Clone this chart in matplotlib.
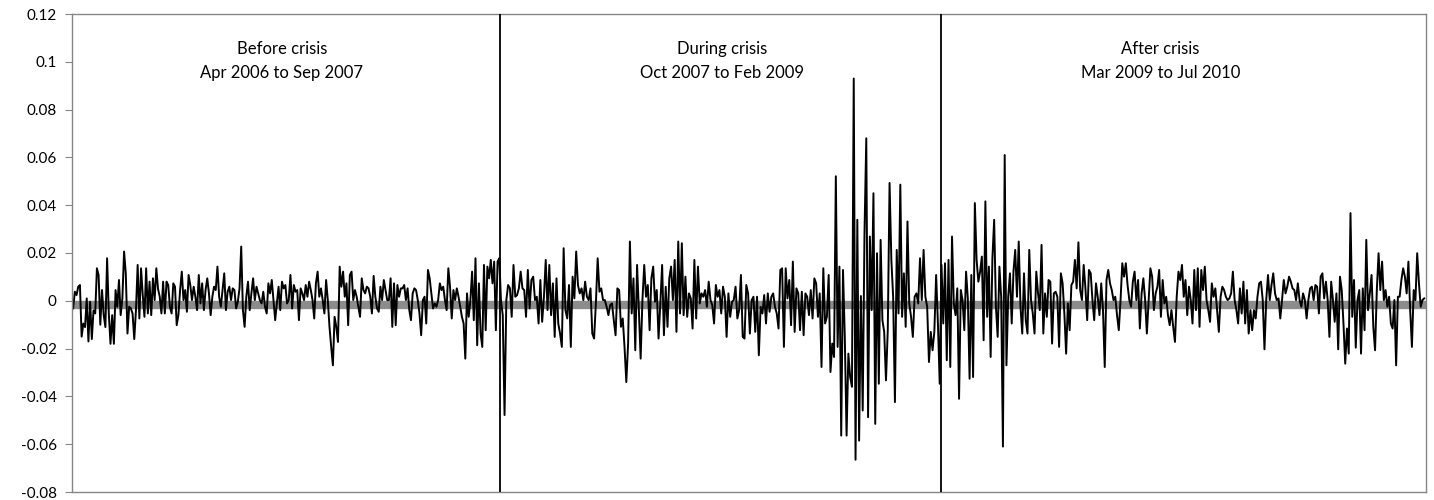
import matplotlib.pyplot as plt
import numpy as np

# daily returns, in thousandths
before = [-3.2, 3.8, 2.4, 5.9, 6.6, -15, -9.5, -11, 1, -17, -0.4, -16, -4, -5.3, 13.6, 10.8, -10, 4.5, -6, -11,
          17.8, -5.3, -18, -6, -18, 4.5, -2.5, 8.7, -6, 1, 20.6, 11.5, -13.7, -2.5, -3.2, -5.3, -16, -4, 15, -7.4,
          13.6, 2.4, -6.7, 13.6, -5.3, 8, -6, 9.4, 0.3, 13.6, 5, 1.7, -5.3, 8,
          -5.3, 8, 6.6, -2.5, -5.3, 7.3, 5.9, -10.2, -6, 4.5, 12.2, 0.3, 4.5, -4.6, 10.8, 6.6, 0.3, 5.9, 1.7, -3.9,
          10.8, -1.1, 7.3, -3.9, 4.5, 9.4, 3.1, -6, 1.7, 5.9, 4.5, 14.3, 1.7, -2.5, 4.5, 11.5, -3.9, 3.8, 5.9, 0.3,
          5.2, 4.5, -3.2, -0.4, 5.2, 22.7, -3.9, -10.9, 1.7, 8, -3.9, 3.1, 9.4, 0.3, 5.9, 3.1, 0.3, -1.1, 3.8, -2.5,
          -5.3, 7.3, 3.1, 8.7, 0.3, -8.1,
          -1.1, 5.9, -3.9, 8, 5.2, 6.6, -1.1, 0.3, 10.8, -3.2, 6.6, 3.8, 4.5, -8.1, 5.2, 3.1, 0.3, 6.6, 1.7, 8,
          4.5, 0.3, -7.4, 7.3, 12.2, 1.7, 5.2, 0.3, -5.3, 8.7, 0.3, -10.9, -19.3, -27, -6.7, -10.9, -17.2, 14.3, 5.9, 12.2,
          1.7, 7.3, -10.2, 10.8, 12.2, 0.3, 4.5, 1.7, -2.5, -6.7, 9.4, 4.5, 3.1, 5.9, 5.2, 1.7, -5.3, 10.4, 1.7, -3.2,
          -4.6, 5.9, 0.3, 8.7, 4.5, 0.3, 0.3, 9.4, -10.9, 7.3, -10.2, 6.6, 1.7, 5.2,
          5.2, 6.6, 0.3, 5.2, -3.9, -8.1, 3.1, 5.2, 4.5, 0.3, -5.3, -14.4, 0.3, 1.7, -9.5, 12.9, 9.4, 3.1, -3.2, -1.1,
          -2.5, 0.3, 7.3, 4.5, 5.9, 0.3, -3.9, 13.6, 5.9, -7.4, 4.5, 0.3, 5.2, 1.7, -2.5, -6.7, -9.5, -24.2, 3.1, -6.7,
          0.3, 12.2, -8.1, 17.8, -18.6, 7.3, -13.7, -19.3, 15, -12.3, 14.3, 9.4, 17.1, 7.3, 16.4, -12.3, 16.4, 17.8]

during = [0.3, -6, -47.8, 0.3, 6.6, 5.2, -6.7, 15, 1.7, 2.4, 5.2,
          12.2, 5.2, 4.5, -6.7, 12.9, -3.2, 8.7, 10.1, 0.3, 1.7, -9.5, 8.7, -8.8, 1.7, 17.1, -3.9, 15, -6, 7.3, -15.1,
          9.4, -9.5, -13.7, -19.3, 22, -3.9, -7.4, 6.6, -19.3, 10.1, 1, 20.6, 6.6, 3.1, 5.2, 0.3, 8, 1.7, 0.3, 5.2,
          -13.7, -15.8, -1.1, 17.8, 3.8, 5.2, 0.3, 0.3, -2.5, -6, -1.8, -1.1, -8.1, -14.4, 5.2, 4.5, -10.9, -7.4, -19.3,
          -34, -17.9, 24.8, -5.3, 9.4, -20.7, 15, -3.9, -24.2,
          0.3, 15, 1.7, 6.6, -12.3, 9.4, 14.3, -0.4, 4.5, -15.8, -1.1, 15, -14.4, 5.9, -10.9, 9.4, 14.3, 0.3, 17.1, -13,
          24.8, -5.3, 24.1, -6, 10.1, -6.7, 3.1, 1, -11.6, 17.1, -7.4, 14.3, -1.1, 3.1, 1.7, 4.5, -2.5, 8, 0.3, -1.8,
          -9.5, 6.6, 1.7, 4.5, -5.3, 5.9, 1.7, -15.1, 3.1, -6.7, -0.4, 0.3, 5.9, -7.4, -3.9, 10.8, -15.1, -15.8, 6.6, 3.1,
          -13.7, 0.3,
          1.7, -13, 1.7, -22.8, -2.5, -5.3, 2.4, -9.5, 3.1, -4.6, 1.7, 3.1, -2.5, -5.3, -11.6, 12.9, 13.6, -19.3, 13.6, 1,
          8.7, -10.2, 16.4, -13, 5.2, 3.1, -12.3, 3.8, -14.4, 3.1, 1.7, -6, 4.5, -7.4, 9.4, 7.3, -6.7, 3.1, -27.7, 13.6,
          -9.5, -6.7, 10.8, -29.8, -17.9, -23.5, 52.1, -19.3, 14.3, -56.4, 12.9, -15.1, -56.4, -22.1, -31.9, -36, 93, -66.5,
          33.9, -58.5, 2, -45.9, 28.3,
          68, -48.7, 26.9, -3.9, 45, -51.5, 19.9, -34.7, 25.5, -8.1, -13, -33.3, -12.3, 49.3, 17.1, 1.7, -42.4, 21.3,
          -5.3, 48.6, -6.7, 11.5, -10.9, 33.2, -1.1, -6.7, -15.1, 1.7, 3.1, -1.1, 17.8, 0.3, 21.3, 1.7, -2.5, -25.6, -13,
          -20.7, -13, 10.8, -9.5, -34.7]

after = [15, -9.5, 15.7, -24.9, 17.1, -27.7, 26.9, -1.1, -6, 5.2, -41, 4.5, 0.3, -12.3, 12.2, 1, -32.6, 10.8,
         -31.9, 40.9, 17.1, 8, 12.2, 18.5, -16.5, 41.6, -6.7, 14.3, -23.5, 17.8, 33.9, -2.5, -15.1, 14.3, 1.7, -61, 61,
         -27, 1.7, 11.5, -9.5, 12.2, 21.3, 1.7, 24.8, -2.5, -13.7, 11.5, -8.1, -13.7, 21.3, 0.3, -5.3, -13.7, 12.2, 3.1,
         -3.9, 23.4, -13.7, 3.1, -6.7, 8.7, 8, -17.9, 3.1, 3.8, 1.7, -19.3, 11.5, 7.3, -5.3, -22.1, -1.1, -12.3, 6.6, 8,
         17.1, 5.2, 24.5, 4.5,
         0.3, 15, 5.2, -8.1, 12.9, 11.5, 0.3, -8.1, 7.3, 1.7, -6, 7.3, -3.9, -27.7, 8.7, 12.9, 7.3, 4.5, 0.3, 1.7, -6,
         -12.3, 0.3, 15.7, 10.1, 15.7, 6.6, 0.3, -2.5, 8, 12.2, 0.3, 8.7, -11.6, 3.1, 9.4, 0.3, -13.7, 0.3, 13.6, 10.1,
         -3.9, 3.1, 5.9, 12.9, -6.7, 8.7, -1.1, 1.7, -6, -10.2, -3.9, -10.9, -17.2, 1.7, 12.2, 8.7, 15, 1.7, 8.7, -6,
         5.9, 0.3, -9.5, 12.9, -3.9, 13.6, -10.9, 12.9,
         4.5, 14.3, 0.3, -3.9, -8.8, 7.3, 1.7, 5.2, -3.9, -13, 1.7, 5.9, 4.5, 1.7, 0.3, 1, 3.1, 12.2, 0.3, -3.9, -9.5,
         5.2, -5.3, 8, -9.5, 4.5, -13.7, -3.9, -12.3, -3.9, -7.4, 1.7, 7.3, 8, 0.3, -20.3, 0.3, 10.8, 0.3, 6.6, 11.5,
         3.1, 0.3, 1, -7.4, 0.3, 8.7, 3.1, 5.9, 10.1, 8, 5.2, 4.5, 0.3, 7.3, 0.3, -2.5, 3.1, 0.3, -7.4, 0.3, 5.2, 5.9,
         0.3, 6.6, 5.9, -5.3, 10.1, 11.5,
         1, 8, 0.3, -15.1, 8, 0.3, -8.8, 3.1, -20.3, 10.1, 4.5, -9.5, -26.3, -11.6, -22.1, 36.7, -6.7, 8.7, -19.6, 0.3,
         4.5, -22.1, 5.2, -12.3, 25.5, -3.9, 3.1, 10.8, -10.9, -20.7, 4.5, 19.9, 4.5, 16.4, 0.3, 4.5, -2.5, 1.7, -9.5,
         -11.6, 0.3, -27, 1.7, 1.7, 8.7, 13.6, 10.1, 3.1, 16.4, -3.9, -19.3, 4.5, 0.3, 19.9, 7.3, -2.5, 0.3, 1]

# trading days in each period (before / during / after)
period_days = [370, 381, 419]
period_labels = ["Before crisis\nApr 2006 to Sep 2007",
                 "During crisis\nOct 2007 to Feb 2009",
                 "After crisis\nMar 2009 to Jul 2010"]
mean_level = -0.0017
y_ticks = [-0.08, -0.06, -0.04, -0.02, 0, 0.02, 0.04, 0.06, 0.08, 0.1, 0.12]

# spread each period's readings over its trading days
xs = []
start = 0
bounds = [0]
for seg, days in zip([before, during, after], period_days):
    xs.append(np.linspace(start, start + days, len(seg), endpoint=False))
    start += days
    bounds.append(start)
x = np.concatenate(xs)
returns = np.array(before + during + after) / 1000.0

plt.rcParams['font.family'] = ['Lato', 'DejaVu Sans']

fig = plt.figure(figsize=(14.34, 5.0), dpi=100)
ax = fig.add_axes([0.0502, 0.016, 0.9442, 0.956])

ax.axhline(mean_level, color='#8c8c8c', lw=6, zorder=1)
ax.plot(x, returns, color='black', lw=1.4, zorder=2)
for b in bounds[1:-1]:
    ax.axvline(b - 0.5, color='black', lw=1.3, zorder=3)

ax.set_xlim(-1, bounds[-1])
ax.set_ylim(-0.08, 0.12)
ax.set_yticks(y_ticks)
ax.set_yticklabels(["%g" % round(v, 2) for v in y_ticks], fontsize=11)
ax.set_xticks([])
ax.tick_params(axis='y', direction='out', length=5, color='#868686', pad=6)
for s in ax.spines.values():
    s.set_color('#868686')
    s.set_linewidth(1)

# text boxes sit a little left of each period's middle
label_x = [0.155, 0.48, 0.804]
for lx, lab in zip(label_x, period_labels):
    ax.text(lx, 0.1005, lab, ha='center', va='center', fontsize=12, linespacing=1.6,
            transform=ax.get_yaxis_transform())

fig.savefig('out.png', dpi=100)
